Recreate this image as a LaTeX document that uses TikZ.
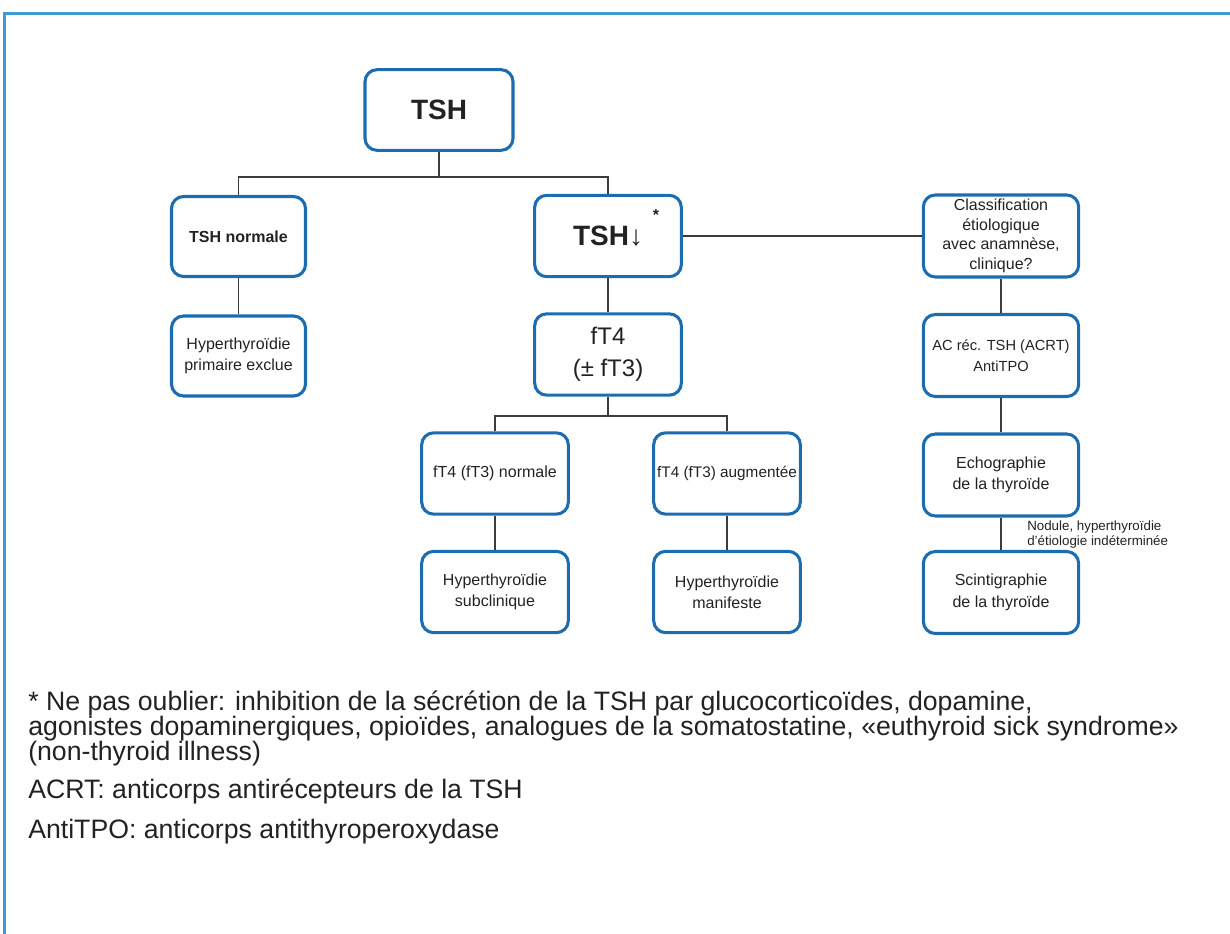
\documentclass[tikz,border=0pt]{standalone}
\usepackage{fontspec}
\setmainfont{Liberation Sans}
\definecolor{boxblue}{HTML}{1C6DB0}
\definecolor{frameblue}{HTML}{3F9BD3}
\definecolor{linegray}{HTML}{3C3C3C}
\definecolor{textgray}{HTML}{222222}
\tikzset{
  flowbox/.style={draw=boxblue,line width=2.3pt,rounded corners=9pt,align=center,
    inner sep=2pt,text=textgray,font=\fontsize{12}{16}\selectfont},
  leftbox/.style={flowbox,minimum width=100.5pt,minimum height=60pt},
  midbox/.style={flowbox,minimum width=110pt,minimum height=61pt},
  rightbox/.style={flowbox,minimum width=116.5pt,minimum height=61.5pt},
  link/.style={draw=linegray,line width=1.1pt},
  notetext/.style={anchor=base west,inner sep=0pt,text=textgray,font=\fontsize{20}{24}\selectfont},
}
\begin{document}
\begin{tikzpicture}[x=0.75pt,y=-0.75pt]
\useasboundingbox (0,0) rectangle (1230,934);
% frame
\draw[frameblue,line width=2.25pt] (4.5,934) -- (4.5,14) -- (1230,14);
% left branch
\node[midbox,minimum width=111pt,minimum height=60.5pt,font=\fontsize{21}{24}\selectfont\bfseries] (tsh) at (439,110) {TSH};
\node[leftbox,font=\fontsize{12}{16}\selectfont\bfseries] (tshn) at (238.5,236.5) {TSH normale};
\node[leftbox] (prim) at (238.5,356) {Hyperthyroïdie\\primaire exclue};
% middle branch
\node[midbox] (tshb) at (608,236) {{\fontsize{21}{24}\selectfont\bfseries TSH}{\fontsize{21}{24}\selectfont ↓}};
\node[text=textgray,inner sep=0pt,font=\fontsize{12}{14}\selectfont\bfseries] (star) at (656,215) {*};
\node[midbox,font=\fontsize{18}{24}\selectfont] (fts) at (608,354.5) {fT4\\(± fT3)};
\node[midbox] (ftn) at (495,473.5) {fT4 (fT3) normale};
\node[midbox,font=\fontsize{11.5}{16}\selectfont] (fta) at (727,473.5) {fT4 (fT3) augmentée};
\node[midbox] (subc) at (495,592) {Hyperthyroïdie\\subclinique};
\node[midbox] (manif) at (727,592) {Hyperthyroïdie\\manifeste};
% right branch
\node[rightbox,font=\fontsize{12}{14.6}\selectfont] (clas) at (1001,236) {Classification\\étiologique\\avec anamnèse,\\clinique?};
\node[rightbox,font=\fontsize{11}{16}\selectfont] (acr) at (1001,355.5) {AC réc. TSH (ACRT)\\AntiTPO};
\node[rightbox] (echo) at (1001,475) {Echographie\\de la thyroïde};
\node[rightbox] (scin) at (1001,592.5) {Scintigraphie\\de la thyroïde};
\node[anchor=west,align=left,inner sep=0pt,text=textgray,font=\fontsize{10}{11.4}\selectfont] (nodlbl) at (1027,534.5) {Nodule, hyperthyroïdie\\d’étiologie indéterminée};
% connectors
\coordinate (j1) at (439,177);
\coordinate (j2) at (608,416);
\draw[link] (tsh) -- (j1);
\draw[link] (tshn.north) |- (j1) -| (tshb.north);
\draw[link] (tshn) -- (prim);
\draw[link] (tshb) -- (fts);
\draw[link] (tshb) -- (clas);
\draw[link] (fts) -- (j2);
\draw[link] (ftn.north) |- (j2) -| (fta.north);
\draw[link] (ftn) -- (subc);
\draw[link] (fta) -- (manif);
\draw[link] (clas) -- (acr);
\draw[link] (acr) -- (echo);
\draw[link] (echo) -- (scin);
% footnotes
\node[notetext] (note1) at (28,710) {* Ne pas oublier: inhibition de la sécrétion de la TSH par glucocorticoïdes, dopamine,};
\node[notetext] (note2) at (28,735) {agonistes dopaminergiques, opioïdes, analogues de la somatostatine, «euthyroid sick syndrome»};
\node[notetext] (note3) at (28,760) {(non-thyroid illness)};
\node[notetext] (note4) at (28,798) {ACRT: anticorps antirécepteurs de la TSH};
\node[notetext] (note5) at (28,838) {AntiTPO: anticorps antithyroperoxydase};
\end{tikzpicture}
\end{document}
